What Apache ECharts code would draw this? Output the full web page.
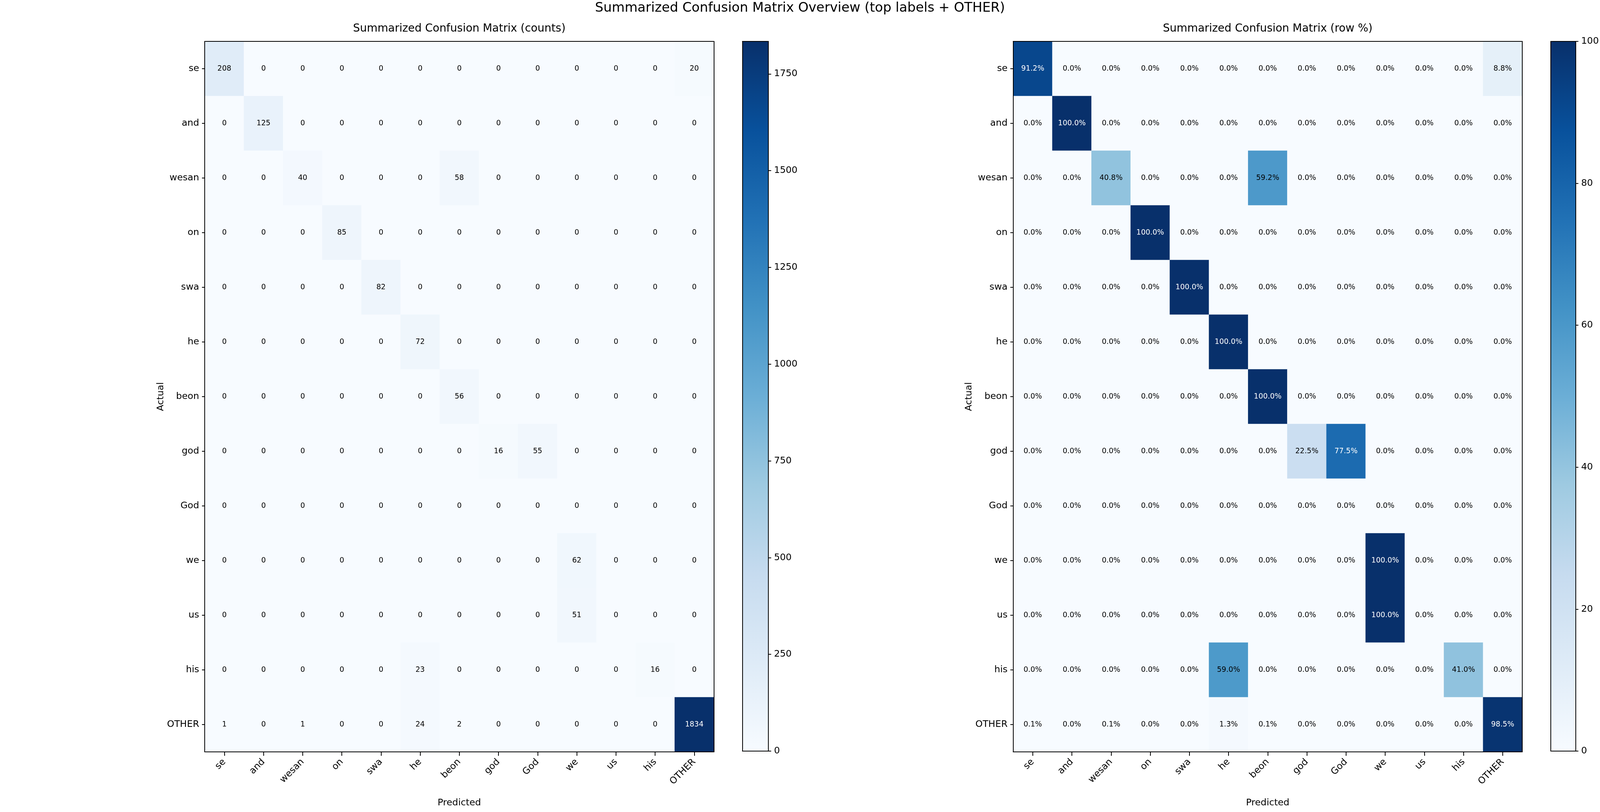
<!DOCTYPE html>
<html><head><meta charset="utf-8">
<script src="https://cdn.jsdelivr.net/npm/echarts@6/dist/echarts.min.js"></script>
<style>html,body{margin:0;padding:0;background:#fff;overflow:hidden}#c{width:100vw;height:100vh}</style>
</head><body><div id="c"></div>
<script>
const labels = ['se','and','wesan','on','swa','he','beon','god','God','we','us','his','OTHER'];
const counts = [
  [208,0,0,0,0,0,0,0,0,0,0,0,20],
  [0,125,0,0,0,0,0,0,0,0,0,0,0],
  [0,0,40,0,0,0,58,0,0,0,0,0,0],
  [0,0,0,85,0,0,0,0,0,0,0,0,0],
  [0,0,0,0,82,0,0,0,0,0,0,0,0],
  [0,0,0,0,0,72,0,0,0,0,0,0,0],
  [0,0,0,0,0,0,56,0,0,0,0,0,0],
  [0,0,0,0,0,0,0,16,55,0,0,0,0],
  [0,0,0,0,0,0,0,0,0,0,0,0,0],
  [0,0,0,0,0,0,0,0,0,62,0,0,0],
  [0,0,0,0,0,0,0,0,0,51,0,0,0],
  [0,0,0,0,0,23,0,0,0,0,0,16,0],
  [1,0,1,0,0,24,2,0,0,0,0,0,1834]
];
const rowPct = [
  [91.2,0,0,0,0,0,0,0,0,0,0,0,8.8],
  [0,100,0,0,0,0,0,0,0,0,0,0,0],
  [0,0,40.8,0,0,0,59.2,0,0,0,0,0,0],
  [0,0,0,100,0,0,0,0,0,0,0,0,0],
  [0,0,0,0,100,0,0,0,0,0,0,0,0],
  [0,0,0,0,0,100,0,0,0,0,0,0,0],
  [0,0,0,0,0,0,100,0,0,0,0,0,0],
  [0,0,0,0,0,0,0,22.5,77.5,0,0,0,0],
  [0,0,0,0,0,0,0,0,0,0,0,0,0],
  [0,0,0,0,0,0,0,0,0,100,0,0,0],
  [0,0,0,0,0,0,0,0,0,100,0,0,0],
  [0,0,0,0,0,59.0,0,0,0,0,0,41.0,0],
  [0.1,0,0.1,0,0,1.3,0.1,0,0,0,0,0,98.5]
];
const countTicks = [0,250,500,750,1000,1250,1500,1750];
const pctTicks = [0,20,40,60,80,100];
const countMax = 1834;
const pctMax = 100;
const blues = ['#f7fbff','#deebf7','#c6dbef','#9ecae1','#6baed6','#4292c6','#2171b5','#08519c','#08306b'];

const FONT = 'DejaVu Sans';
const el = document.getElementById('c');
const SX = (window.innerWidth || 5720) / 5720;
const SY = (window.innerHeight || 2080) / 2080;
const SF = Math.sqrt(SX * SY);
const X = v => v * SX, Y = v => v * SY, F = v => v * SF;
const chart = echarts.init(el, null, {renderer:'canvas'});

function cells(mat, max) {
  const out = [];
  mat.forEach((row, i) => row.forEach((v, j) => {
    out.push({value:[j, i, v], label:{color: v > 0.6*max ? '#ffffff' : '#000000'}});
  }));
  return out;
}
const line = {show:true, onZero:false, lineStyle:{color:'#000', width:2}};
const tickStyle = {color:'#000', width:2};
function txt(size){ return {fontSize:F(size), color:'#000', fontFamily:FONT}; }
function mainX(g){ return {type:'category', gridIndex:g, data:labels, position:'bottom', z:5,
  axisLine:line, axisTick:{show:true, alignWithLabel:true, interval:0, length:Y(10), lineStyle:tickStyle},
  axisLabel:Object.assign({interval:0, rotate:45, margin:Y(22)}, txt(28)),
  splitLine:{show:false},
  name:'Predicted', nameLocation:'middle', nameGap:Y(119), nameTextStyle:txt(28)}; }
function mainY(g){ return {type:'category', gridIndex:g, data:labels, inverse:true, position:'left', z:5,
  axisLine:line, axisTick:{show:true, alignWithLabel:true, interval:0, length:X(10), lineStyle:tickStyle},
  axisLabel:Object.assign({interval:0, margin:X(20)}, txt(28)),
  splitLine:{show:false},
  name:'Actual', nameLocation:'middle', nameGap:X(125), nameTextStyle:txt(28)}; }
function lineAxis(g, pos, type, extra){ return Object.assign({type:type, gridIndex:g, position:pos, z:5,
  axisLine:line, axisTick:{show:false}, axisLabel:{show:false}, splitLine:{show:false}}, extra||{}); }
function cbY(g, max, ticks){ return {type:'value', gridIndex:g, position:'right', min:0, max:max, z:5,
  axisLine:line, splitLine:{show:false},
  axisTick:{show:true, length:X(10), lineStyle:tickStyle, customValues:ticks},
  axisLabel:Object.assign({margin:X(20), customValues:ticks, formatter:v=>String(v)}, txt(28))}; }
const grad = new echarts.graphic.LinearGradient(0,1,0,0, blues.map((c,k)=>({offset:k/(blues.length-1), color:c})));

const option = {
  backgroundColor:'#ffffff',
  animation:false,
  title:[
    {text:'Summarized Confusion Matrix Overview (top labels + OTHER)', left:X(2860), top:Y(4), textAlign:'center', padding:0,
     textStyle:Object.assign({fontWeight:'normal'}, txt(40))},
    {text:'Summarized Confusion Matrix (counts)', left:X(1642), top:Y(60), textAlign:'center', padding:0,
     textStyle:Object.assign({fontWeight:'normal'}, txt(33))},
    {text:'Summarized Confusion Matrix (row %)', left:X(4532), top:Y(60), textAlign:'center', padding:0,
     textStyle:Object.assign({fontWeight:'normal'}, txt(33))}
  ],
  grid:[
    {left:X(732), top:Y(106), width:X(1820), height:Y(1820)},
    {left:X(2654), top:Y(106), width:X(93), height:Y(1818)},
    {left:X(3622), top:Y(106), width:X(1820), height:Y(1820)},
    {left:X(5544), top:Y(106), width:X(91), height:Y(1818)}
  ],
  xAxis:[
    mainX(0),
    lineAxis(0,'top','category',{data:labels}),
    lineAxis(1,'bottom','category',{data:['cb']}),
    lineAxis(1,'top','category',{data:['cb']}),
    mainX(2),
    lineAxis(2,'top','category',{data:labels}),
    lineAxis(3,'bottom','category',{data:['cb']}),
    lineAxis(3,'top','category',{data:['cb']})
  ],
  yAxis:[
    mainY(0),
    lineAxis(0,'right','category',{data:labels, inverse:true}),
    lineAxis(1,'left','value',{min:0, max:countMax}),
    cbY(1, countMax, countTicks),
    mainY(2),
    lineAxis(2,'right','category',{data:labels, inverse:true}),
    lineAxis(3,'left','value',{min:0, max:pctMax}),
    cbY(3, pctMax, pctTicks)
  ],
  visualMap:[
    {type:'continuous', show:false, min:0, max:countMax, seriesIndex:0, dimension:2, inRange:{color:blues}},
    {type:'continuous', show:false, min:0, max:pctMax, seriesIndex:2, dimension:2, inRange:{color:blues}}
  ],
  series:[
    {type:'heatmap', xAxisIndex:0, yAxisIndex:0, data:cells(counts, countMax),
     label:{show:true, fontSize:F(22), fontFamily:FONT, formatter:p=>String(p.value[2])},
     emphasis:{disabled:true}},
    {type:'bar', xAxisIndex:2, yAxisIndex:3, data:[countMax], barWidth:'100%', itemStyle:{color:grad}, silent:true},
    {type:'heatmap', xAxisIndex:4, yAxisIndex:4, data:cells(rowPct, pctMax),
     label:{show:true, fontSize:F(22), fontFamily:FONT, formatter:p=>p.value[2].toFixed(1)+'%'},
     emphasis:{disabled:true}},
    {type:'bar', xAxisIndex:6, yAxisIndex:7, data:[pctMax], barWidth:'100%', itemStyle:{color:grad}, silent:true}
  ]
};
chart.setOption(option);
window.addEventListener('resize', () => chart.resize());
</script></body></html>
